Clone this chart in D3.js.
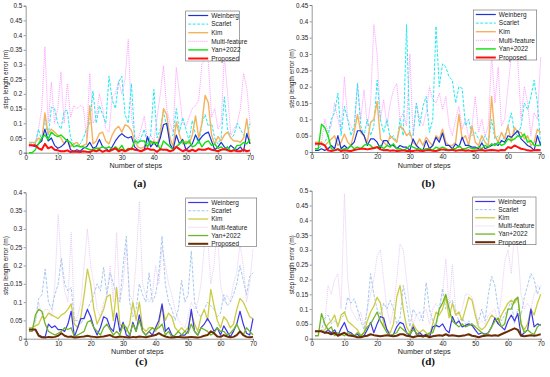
<!DOCTYPE html>
<html>
<head>
<meta charset="utf-8">
<script src="https://cdn.jsdelivr.net/npm/d3@7"></script>
<style>
  body { margin: 0; background: #fff; }
  svg { display: block; }
  .tick text { font-family: "Liberation Sans", Arial, sans-serif; font-size: 6.3px; fill: #222; }
  .tick line, .domain { stroke: #555; stroke-width: 0.6; }
</style>
</head>
<body>
<svg id="chart" width="550" height="377"></svg>
<script>
// steps on the x axis
const steps = d3.range(1, 71);
const seriesNames = ["Weinberg", "Scarlet", "Kim", "Multi-feature", "Yan+2022", "Proposed"];

// panel (a)
const weinbergA = [0.025,0.025,0.02,0.03,0.04,0.08,0.04,0.05,0.025,0.015,0.02,0.03,0.045,0.01,0.005,0.01,0.005,0.015,0.02,0.035,0.015,0.02,0.045,0.02,0.015,0.005,0.02,0.04,0.055,0.065,0.055,0.05,0.055,0.02,0.01,0.005,0.01,0.055,0.02,0.035,0.02,0.05,0.095,0.1,0.03,0.01,0.06,0.03,0.045,0.01,0.02,0.03,0.06,0.04,0.055,0.065,0.07,0.04,0.01,0.02,0.035,0.02,0.01,0.025,0.015,0.01,0.02,0.005,0.065,0.03];
const scarletA = [0.03,0.03,0.03,0.08,0.04,0.12,0.05,0.155,0.15,0.1,0.08,0.14,0.145,0.05,0.03,0.02,0.03,0.05,0.08,0.1,0.21,0.1,0.16,0.13,0.1,0.26,0.18,0.15,0.24,0.26,0.13,0.1,0.235,0.05,0.03,0.05,0.08,0.03,0.06,0.215,0.05,0.08,0.14,0.09,0.05,0.06,0.15,0.07,0.12,0.08,0.04,0.11,0.06,0.03,0.1,0.13,0.09,0.1,0.05,0.03,0.05,0.19,0.08,0.05,0.06,0.1,0.08,0.06,0.05,0.1];
const kimA = [0.035,0.035,0.035,0.05,0.04,0.135,0.065,0.08,0.07,0.06,0.05,0.03,0.045,0.02,0.03,0.035,0.02,0.025,0.03,0.16,0.03,0.04,0.065,0.07,0.04,0.03,0.06,0.08,0.09,0.07,0.095,0.09,0.075,0.04,0.02,0.015,0.02,0.05,0.03,0.04,0.03,0.06,0.15,0.13,0.05,0.02,0.105,0.06,0.03,0.04,0.03,0.06,0.125,0.05,0.1,0.195,0.17,0.06,0.03,0.055,0.04,0.06,0.07,0.05,0.04,0.04,0.035,0.05,0.115,0.03];
const multiA = [0.02,0.02,0.03,0.08,0.15,0.36,0.1,0.24,0.1,0.15,0.275,0.1,0.235,0.12,0.16,0.15,0.16,0.155,0.05,0.27,0.1,0.12,0.2,0.15,0.08,0.07,0.19,0.2,0.245,0.2,0.25,0.385,0.12,0.06,0.04,0.08,0.125,0.04,0.06,0.04,0.12,0.2,0.295,0.15,0.1,0.07,0.29,0.2,0.1,0.09,0.12,0.15,0.16,0.18,0.3,0.32,0.31,0.12,0.15,0.08,0.1,0.33,0.2,0.06,0.08,0.1,0.15,0.27,0.22,0.1];
const yanA = [0.0,0.0,0.01,0.03,0.05,0.06,0.045,0.07,0.06,0.055,0.06,0.05,0.04,0.035,0.02,0.025,0.02,0.02,0.015,0.01,0.01,0.015,0.015,0.02,0.015,0.02,0.01,0.02,0.01,0.025,0.005,0.015,0.01,0.04,0.035,0.04,0.04,0.02,0.04,0.03,0.035,0.01,0.04,0.03,0.02,0.01,0.02,0.03,0.04,0.03,0.04,0.02,0.025,0.04,0.02,0.035,0.04,0.025,0.03,0.015,0.02,0.01,0.02,0.005,0.01,0.025,0.025,0.035,0.03,0.045];
const proposedA = [0.025,0.025,0.025,0.015,0.01,0.03,0.015,0.02,0.01,0.008,0.005,0.005,0.008,0.002,0.004,0.003,0.002,0.005,0.003,0.002,0.008,0.005,0.01,0.003,0.008,0.005,0.01,0.015,0.005,0.01,0.005,0.01,0.015,0.01,0.008,0.005,0.01,0.015,0.01,0.01,0.003,0.012,0.01,0.01,0.005,0.008,0.02,0.012,0.005,0.01,0.005,0.01,0.005,0.012,0.01,0.01,0.015,0.01,0.008,0.005,0.01,0.012,0.008,0.005,0.008,0.005,0.005,0.01,0.005,0.008];

// panel (b)
const weinbergB = [0.005,0.005,0.01,0.005,0.01,0.02,0.01,0.05,0.01,0.02,0.01,0.02,0.03,0.065,0.065,0.05,0.02,0.04,0.04,0.03,0.01,0.035,0.035,0.02,0.02,0.01,0.02,0.015,0.015,0.005,0.04,0.02,0.01,0.005,0.035,0.01,0.02,0.045,0.03,0.058,0.02,0.02,0.01,0.025,0.015,0.045,0.02,0.02,0.015,0.015,0.01,0.028,0.01,0.015,0.02,0.025,0.02,0.035,0.03,0.05,0.045,0.055,0.065,0.04,0.03,0.02,0.015,0.005,0.05,0.02];
const scarletB = [0.01,0.01,0.02,0.03,0.05,0.1,0.12,0.18,0.05,0.14,0.1,0.05,0.08,0.21,0.08,0.05,0.1,0.05,0.08,0.22,0.1,0.06,0.1,0.04,0.05,0.03,0.1,0.05,0.39,0.05,0.05,0.15,0.08,0.14,0.17,0.06,0.1,0.385,0.2,0.27,0.26,0.23,0.22,0.15,0.2,0.195,0.08,0.1,0.05,0.06,0.04,0.03,0.05,0.03,0.1,0.04,0.05,0.03,0.05,0.08,0.12,0.06,0.05,0.08,0.15,0.13,0.17,0.22,0.15,0.02];
const kimB = [0.03,0.03,0.03,0.02,0.03,0.04,0.05,0.02,0.03,0.055,0.03,0.02,0.06,0.115,0.06,0.05,0.03,0.09,0.1,0.155,0.04,0.03,0.02,0.05,0.04,0.03,0.08,0.07,0.05,0.06,0.03,0.02,0.04,0.02,0.045,0.03,0.02,0.05,0.04,0.07,0.03,0.02,0.02,0.03,0.115,0.04,0.05,0.02,0.08,0.03,0.02,0.05,0.03,0.02,0.17,0.05,0.03,0.06,0.04,0.08,0.03,0.075,0.06,0.06,0.04,0.05,0.02,0.03,0.07,0.06];
const multiB = [0.02,0.02,0.03,0.1,0.06,0.08,0.15,0.1,0.06,0.23,0.1,0.08,0.06,0.21,0.1,0.19,0.08,0.15,0.39,0.3,0.1,0.16,0.08,0.15,0.19,0.21,0.1,0.12,0.08,0.3,0.05,0.15,0.1,0.08,0.12,0.2,0.16,0.15,0.18,0.13,0.17,0.08,0.05,0.1,0.14,0.07,0.1,0.04,0.08,0.17,0.06,0.1,0.05,0.08,0.3,0.15,0.26,0.08,0.1,0.2,0.29,0.3,0.28,0.1,0.2,0.15,0.05,0.12,0.1,0.29];
const yanB = [0.01,0.01,0.085,0.075,0.05,0.01,0.005,0.01,0.005,0.01,0.01,0.02,0.01,0.015,0.01,0.02,0.025,0.02,0.01,0.015,0.02,0.01,0.02,0.015,0.025,0.01,0.01,0.005,0.01,0.02,0.015,0.01,0.01,0.005,0.01,0.01,0.005,0.015,0.01,0.015,0.01,0.005,0.01,0.01,0.02,0.01,0.01,0.015,0.01,0.01,0.015,0.01,0.02,0.015,0.025,0.02,0.03,0.02,0.025,0.04,0.035,0.04,0.05,0.045,0.055,0.03,0.035,0.02,0.02,0.02];
const proposedB = [0.025,0.025,0.025,0.02,0.005,0.003,0.005,0.008,0.003,0.005,0.004,0.003,0.006,0.008,0.01,0.01,0.008,0.01,0.012,0.015,0.008,0.005,0.006,0.004,0.005,0.003,0.004,0.005,0.003,0.004,0.003,0.005,0.004,0.003,0.005,0.006,0.004,0.003,0.006,0.008,0.006,0.005,0.007,0.004,0.005,0.006,0.004,0.005,0.003,0.004,0.005,0.006,0.004,0.005,0.006,0.005,0.004,0.006,0.005,0.015,0.012,0.02,0.015,0.01,0.008,0.005,0.004,0.005,0.006,0.005];

// panel (c)
const weinbergC = [0.025,0.025,0.025,0.01,0.005,0.005,0.04,0.03,0.035,0.025,0.025,0.02,0.04,0.075,0.005,0.03,0.055,0.055,0.08,0.06,0.03,0.01,0.03,0.06,0.055,0.03,0.02,0.07,0.02,0.045,0.01,0.005,0.045,0.02,0.065,0.02,0.01,0.02,0.01,0.03,0.05,0.095,0.02,0.03,0.01,0.005,0.005,0.01,0.01,0.02,0.08,0.02,0.01,0.03,0.04,0.055,0.04,0.02,0.03,0.01,0.035,0.02,0.005,0.02,0.04,0.075,0.04,0.015,0.01,0.055];
const scarletC = [0.03,0.03,0.05,0.11,0.12,0.19,0.1,0.08,0.12,0.15,0.22,0.15,0.13,0.14,0.05,0.05,0.04,0.06,0.08,0.1,0.12,0.15,0.13,0.195,0.12,0.18,0.15,0.12,0.1,0.2,0.28,0.1,0.06,0.08,0.15,0.12,0.1,0.18,0.1,0.12,0.18,0.28,0.15,0.1,0.08,0.05,0.08,0.16,0.1,0.12,0.24,0.1,0.07,0.06,0.08,0.1,0.09,0.08,0.06,0.07,0.12,0.09,0.1,0.12,0.15,0.2,0.16,0.12,0.17,0.18];
const kimC = [0.03,0.03,0.035,0.04,0.06,0.055,0.07,0.065,0.06,0.055,0.065,0.07,0.08,0.095,0.04,0.03,0.06,0.12,0.19,0.15,0.08,0.04,0.06,0.08,0.115,0.12,0.05,0.14,0.04,0.03,0.02,0.04,0.1,0.05,0.1,0.03,0.02,0.03,0.03,0.02,0.04,0.09,0.05,0.07,0.06,0.03,0.02,0.03,0.02,0.03,0.07,0.04,0.02,0.06,0.08,0.05,0.135,0.09,0.05,0.03,0.06,0.05,0.03,0.04,0.08,0.11,0.1,0.08,0.06,0.055];
const multiC = [0.02,0.02,0.04,0.1,0.06,0.08,0.08,0.06,0.15,0.34,0.2,0.13,0.1,0.29,0.05,0.06,0.1,0.2,0.3,0.2,0.15,0.08,0.06,0.1,0.12,0.2,0.1,0.29,0.1,0.15,0.25,0.12,0.1,0.21,0.375,0.15,0.12,0.1,0.12,0.2,0.15,0.25,0.2,0.15,0.12,0.08,0.05,0.04,0.03,0.06,0.1,0.08,0.1,0.15,0.25,0.28,0.15,0.2,0.3,0.15,0.1,0.12,0.1,0.15,0.18,0.26,0.2,0.1,0.15,0.245];
const yanC = [0.02,0.02,0.065,0.08,0.075,0.04,0.02,0.015,0.01,0.015,0.02,0.03,0.025,0.03,0.005,0.01,0.015,0.02,0.045,0.05,0.03,0.02,0.01,0.03,0.04,0.025,0.01,0.02,0.01,0.04,0.03,0.01,0.04,0.02,0.05,0.02,0.01,0.02,0.03,0.025,0.03,0.04,0.01,0.02,0.005,0.01,0.02,0.01,0.02,0.015,0.04,0.02,0.01,0.03,0.025,0.02,0.01,0.015,0.03,0.02,0.02,0.01,0.015,0.025,0.04,0.02,0.01,0.03,0.02,0.01];
const proposedC = [0.025,0.025,0.025,0.008,0.004,0.003,0.005,0.004,0.005,0.008,0.015,0.008,0.005,0.006,0.003,0.004,0.005,0.006,0.008,0.006,0.005,0.004,0.005,0.006,0.008,0.01,0.005,0.004,0.006,0.005,0.004,0.003,0.005,0.004,0.006,0.005,0.004,0.006,0.008,0.01,0.015,0.01,0.006,0.004,0.003,0.004,0.005,0.004,0.003,0.004,0.005,0.004,0.003,0.005,0.008,0.01,0.02,0.015,0.006,0.005,0.01,0.006,0.004,0.005,0.01,0.02,0.01,0.005,0.004,0.005];

// panel (d)
const weinbergD = [0.025,0.025,0.025,0.02,0.03,0.02,0.03,0.01,0.035,0.055,0.025,0.02,0.01,0.015,0.005,0.01,0.03,0.055,0.02,0.05,0.075,0.07,0.03,0.01,0.015,0.04,0.055,0.05,0.02,0.01,0.04,0.015,0.02,0.01,0.015,0.005,0.04,0.045,0.04,0.05,0.03,0.02,0.075,0.05,0.06,0.04,0.045,0.05,0.045,0.03,0.015,0.02,0.015,0.02,0.04,0.07,0.05,0.04,0.03,0.06,0.08,0.06,0.085,0.01,0.02,0.03,0.1,0.04,0.05,0.045];
const scarletD = [0.025,0.025,0.03,0.07,0.08,0.05,0.06,0.05,0.07,0.08,0.14,0.12,0.135,0.1,0.06,0.03,0.1,0.22,0.15,0.1,0.08,0.12,0.1,0.13,0.1,0.05,0.07,0.18,0.12,0.04,0.1,0.08,0.09,0.06,0.19,0.1,0.06,0.04,0.1,0.17,0.1,0.12,0.13,0.09,0.06,0.07,0.05,0.06,0.05,0.04,0.06,0.1,0.06,0.15,0.21,0.18,0.1,0.06,0.08,0.1,0.13,0.05,0.1,0.08,0.14,0.18,0.22,0.2,0.15,0.18];
const kimD = [0.025,0.025,0.025,0.03,0.05,0.06,0.08,0.04,0.08,0.09,0.06,0.05,0.04,0.03,0.01,0.02,0.06,0.09,0.11,0.14,0.12,0.05,0.03,0.02,0.05,0.14,0.18,0.1,0.04,0.02,0.05,0.03,0.02,0.03,0.02,0.01,0.05,0.09,0.08,0.1,0.14,0.07,0.12,0.08,0.09,0.06,0.1,0.14,0.13,0.08,0.04,0.03,0.04,0.06,0.08,0.07,0.05,0.08,0.1,0.12,0.13,0.12,0.14,0.05,0.03,0.05,0.1,0.08,0.12,0.15];
const multiD = [0.02,0.02,0.02,0.05,0.18,0.15,0.2,0.22,0.1,0.49,0.2,0.1,0.08,0.06,0.09,0.04,0.1,0.15,0.2,0.28,0.3,0.2,0.1,0.05,0.1,0.2,0.32,0.3,0.2,0.1,0.05,0.08,0.06,0.09,0.1,0.05,0.1,0.12,0.1,0.15,0.27,0.1,0.25,0.1,0.08,0.1,0.15,0.15,0.14,0.1,0.05,0.06,0.05,0.08,0.09,0.1,0.05,0.15,0.26,0.3,0.22,0.36,0.3,0.15,0.1,0.12,0.1,0.15,0.18,0.17];
const yanD = [0.01,0.01,0.085,0.05,0.03,0.04,0.01,0.02,0.015,0.01,0.02,0.015,0.01,0.02,0.01,0.02,0.04,0.05,0.07,0.09,0.06,0.04,0.02,0.01,0.015,0.02,0.04,0.03,0.02,0.015,0.03,0.02,0.01,0.005,0.01,0.02,0.02,0.05,0.1,0.12,0.15,0.1,0.06,0.05,0.04,0.05,0.04,0.045,0.05,0.04,0.03,0.02,0.01,0.02,0.04,0.06,0.07,0.04,0.05,0.1,0.1,0.13,0.14,0.05,0.02,0.03,0.02,0.015,0.04,0.05];
const proposedD = [0.025,0.025,0.025,0.02,0.02,0.015,0.02,0.01,0.015,0.02,0.012,0.01,0.008,0.005,0.005,0.008,0.01,0.015,0.012,0.01,0.008,0.01,0.012,0.01,0.008,0.01,0.015,0.015,0.01,0.008,0.005,0.008,0.01,0.008,0.01,0.005,0.008,0.01,0.012,0.01,0.015,0.01,0.012,0.01,0.008,0.01,0.012,0.015,0.01,0.008,0.005,0.008,0.01,0.012,0.01,0.012,0.01,0.015,0.02,0.025,0.03,0.035,0.03,0.01,0.008,0.01,0.012,0.01,0.012,0.015];

const xTicks = [0, 10, 20, 30, 40, 50, 60, 70];

// line styles: a/b share one palette, c/d another
const styleAB = [
  { color: "#1a33d6", width: 1.2, dash: null },
  { color: "#22e8f0", width: 1.0, dash: "3,1.5" },
  { color: "#f5b25e", width: 1.4, dash: null },
  { color: "#ff90ff", width: 0.8, dash: "1.2,0.8" },
  { color: "#10e010", width: 1.4, dash: null },
  { color: "#ff1010", width: 2.0, dash: null }
];
const styleCD = [
  { color: "#3b35e8", width: 1.2, dash: null },
  { color: "#a6c8ee", width: 1.0, dash: "3,1.5" },
  { color: "#cccc44", width: 1.3, dash: null },
  { color: "#e6c4f4", width: 0.8, dash: "1.2,0.8" },
  { color: "#6cb526", width: 1.3, dash: null },
  { color: "#6b2c04", width: 2.0, dash: null }
];

const panels = [
  { tag: "(a)", data: [weinbergA, scarletA, kimA, multiA, yanA, proposedA], styles: styleAB, ymax: 0.5,
    x0: 25.7, x1: 250, y0: 152.7, y1: 5.7, tagY: 187, legend: { x: 185.7, y: 11, w: 53.6, h: 50 } },
  { tag: "(b)", data: [weinbergB, scarletB, kimB, multiB, yanB, proposedB], styles: styleAB, ymax: 0.45,
    x0: 311.7, x1: 540.7, y0: 152, y1: 5, tagY: 187, legend: { x: 473.3, y: 10, w: 63.4, h: 50 } },
  { tag: "(c)", data: [weinbergC, scarletC, kimC, multiC, yanC, proposedC], styles: styleCD, ymax: 0.4,
    x0: 25.7, x1: 253, y0: 338.7, y1: 192.3, tagY: 365, legend: { x: 185.7, y: 198, w: 71, h: 48.3 } },
  { tag: "(d)", data: [weinbergD, scarletD, kimD, multiD, yanD, proposedD], styles: styleCD, ymax: 0.5,
    x0: 311.7, x1: 540.7, y0: 338.7, y1: 190.7, tagY: 365, legend: { x: 472.7, y: 197, w: 63.3, h: 47.7 } }
];

const svg = d3.select("#chart");
const fmt = d => d === 0 ? "0" : String(+d.toFixed(2));
const drawOrder = [3, 1, 2, 0, 4, 5];

panels.forEach(p => {
  const x = d3.scaleLinear().domain([0, 70]).range([p.x0, p.x1]);
  const y = d3.scaleLinear().domain([0, p.ymax]).range([p.y0, p.y1]);
  const g = svg.append("g");

  const yTicks = d3.range(0, Math.round(p.ymax / 0.05) + 1).map(i => +(i * 0.05).toFixed(2));

  g.append("g").attr("transform", `translate(0,${p.y0})`)
    .call(d3.axisBottom(x).tickValues(xTicks).tickSize(2).tickPadding(0.8).tickFormat(d3.format("d")));
  g.append("g").attr("transform", `translate(${p.x0},0)`)
    .call(d3.axisLeft(y).tickValues(yTicks).tickSize(2).tickPadding(1.5).tickFormat(fmt));

  const line = d3.line().x((d, i) => x(steps[i])).y(d => y(d));
  drawOrder.forEach(k => {
    const s = p.styles[k];
    g.append("path").datum(p.data[k])
      .attr("d", line)
      .attr("fill", "none")
      .attr("stroke", s.color)
      .attr("stroke-width", s.width)
      .attr("stroke-dasharray", s.dash)
      .attr("stroke-linejoin", "round");
  });

  // axis titles
  g.append("text")
    .attr("x", (p.x0 + p.x1) / 2 - 2).attr("y", p.y0 + 15.5)
    .attr("text-anchor", "middle")
    .attr("font-family", "Liberation Sans, Arial, sans-serif").attr("font-size", 7.2)
    .attr("fill", "#222").text("Number of steps");
  g.append("text")
    .attr("transform", `translate(${p.x0 - 18},${(p.y0 + p.y1) / 2}) rotate(-90)`)
    .attr("text-anchor", "middle")
    .attr("font-family", "Liberation Sans, Arial, sans-serif").attr("font-size", 6.5)
    .attr("fill", "#222").text("step length error (m)");
  g.append("text")
    .attr("x", (p.x0 + p.x1) / 2 + 2).attr("y", p.tagY)
    .attr("text-anchor", "middle")
    .attr("font-family", "Liberation Serif, serif").attr("font-size", 11).attr("font-weight", "bold")
    .attr("fill", "#111").text(p.tag);

  // legend
  const L = p.legend;
  const lg = g.append("g");
  lg.append("rect").attr("x", L.x).attr("y", L.y).attr("width", L.w).attr("height", L.h)
    .attr("fill", "#fff").attr("stroke", "#666").attr("stroke-width", 0.6);
  const rowH = (L.h - 7) / 5;
  seriesNames.forEach((name, k) => {
    const s = p.styles[k];
    const ry = L.y + 4.5 + k * rowH;
    lg.append("line").attr("x1", L.x + 2.5).attr("x2", L.x + 22.5).attr("y1", ry).attr("y2", ry)
      .attr("stroke", s.color).attr("stroke-width", s.width).attr("stroke-dasharray", s.dash);
    lg.append("text").attr("x", L.x + 25.5).attr("y", ry + 2.3)
      .attr("font-family", "Liberation Sans, Arial, sans-serif").attr("font-size", 6.5)
      .attr("fill", "#222").text(name);
  });
});
</script>
</body>
</html>
